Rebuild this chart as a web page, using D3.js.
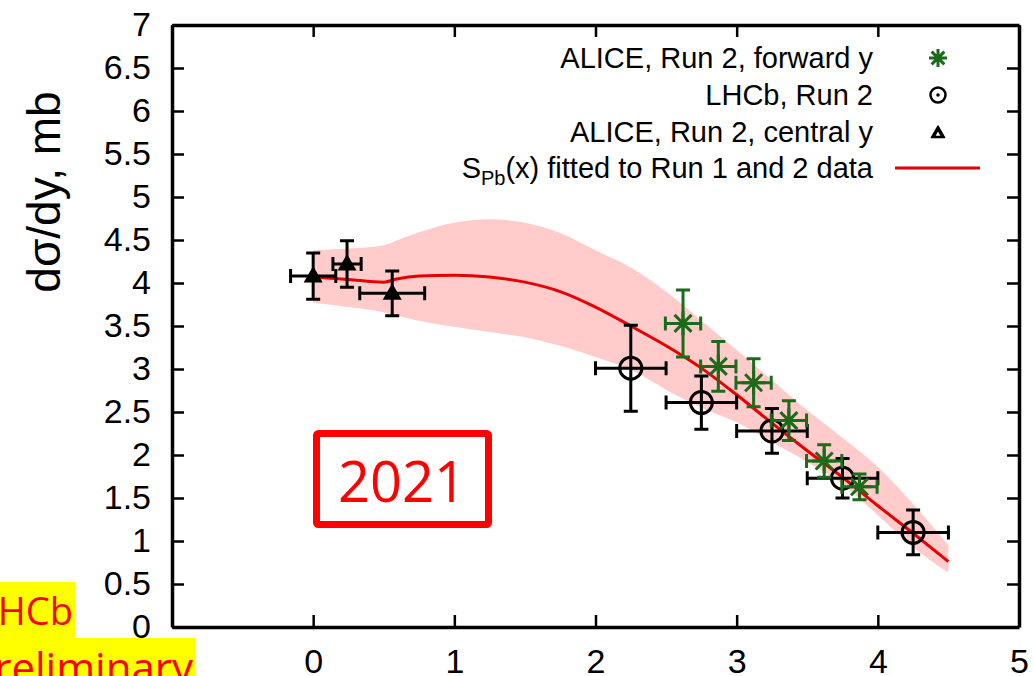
<!DOCTYPE html>
<html>
<head>
<meta charset="utf-8">
<script src="https://cdn.jsdelivr.net/npm/d3@7"></script>
<style>
  body { margin: 0; background: #fff; }
  svg { display: block; font-family: "Liberation Sans", Arial, sans-serif; }
</style>
</head>
<body>
<svg id="chart" width="1033" height="676"></svg>
<script>
// fitted curve S_Pb(x) and its uncertainty band
const fitX = [0, 0.25, 0.5, 0.6, 0.75, 1.0, 1.25, 1.5, 1.75, 2.0, 2.25, 2.5, 2.75, 3.0, 3.25, 3.5, 3.75, 4.0, 4.25, 4.5];
const fitY = [4.07, 4.04, 4.01, 4.05, 4.08, 4.09, 4.07, 4.01, 3.90, 3.72, 3.50, 3.27, 3.01, 2.70, 2.37, 2.05, 1.74, 1.41, 1.09, 0.76];
const bandHigh = [4.38, 4.40, 4.44, 4.50, 4.59, 4.70, 4.74, 4.70, 4.58, 4.38, 4.18, 3.90, 3.56, 3.22, 2.87, 2.52, 2.20, 1.86, 1.43, 0.95];
const bandLow = [3.77, 3.72, 3.66, 3.62, 3.56, 3.49, 3.43, 3.37, 3.27, 3.14, 2.99, 2.76, 2.55, 2.38, 2.15, 1.92, 1.66, 1.30, 0.93, 0.63];

// ALICE, Run 2, forward y
const fwdX = [2.62, 2.87, 3.12, 3.37, 3.62, 3.87];
const fwdY = [3.53, 3.03, 2.84, 2.40, 1.93, 1.63];
const fwdXErr = [0.125, 0.125, 0.125, 0.125, 0.125, 0.125];
const fwdYErr = [0.39, 0.29, 0.28, 0.23, 0.19, 0.15];

// LHCb, Run 2
const lhcbX = [2.25, 2.75, 3.25, 3.75, 4.25];
const lhcbY = [3.01, 2.61, 2.28, 1.73, 1.10];
const lhcbXErr = [0.25, 0.25, 0.25, 0.25, 0.25];
const lhcbYErr = [0.50, 0.31, 0.26, 0.23, 0.26];

// ALICE, Run 2, central y
const cenX = [0, 0.24, 0.56];
const cenY = [4.08, 4.22, 3.88];
const cenXErr = [0.16, 0.1, 0.23];
const cenYErr = [0.27, 0.27, 0.26];

const xTicks = [-1, 0, 1, 2, 3, 4, 5];
const yTicks = [0, 0.5, 1, 1.5, 2, 2.5, 3, 3.5, 4, 4.5, 5, 5.5, 6, 6.5, 7];

const legendLabels = ["ALICE, Run 2, forward y", "LHCb, Run 2", "ALICE, Run 2, central y"];

const svg = d3.select("#chart");
const x = d3.scaleLinear().domain([-1, 5]).range([172, 1019]);
const y = d3.scaleLinear().domain([0, 7]).range([627, 25]);

const green = "#1b6b1b";
const red = "#e60000";

// band
const band = fitX.map((v, i) => ({ x: v, lo: bandLow[i], hi: bandHigh[i] }));
svg.append("path")
  .datum(band)
  .attr("fill", "#ffcbcb")
  .attr("d", d3.area().x(d => x(d.x)).y0(d => y(d.lo)).y1(d => y(d.hi)).curve(d3.curveMonotoneX));

// fit line
svg.append("path")
  .datum(fitX.map((v, i) => [v, fitY[i]]))
  .attr("fill", "none")
  .attr("stroke", red)
  .attr("stroke-width", 3)
  .attr("d", d3.line().x(d => x(d[0])).y(d => y(d[1])).curve(d3.curveMonotoneX));

// axes, gnuplot style: inward ticks on all four sides
function styleAxis(g) {
  g.select(".domain").attr("stroke-width", 3.5).attr("stroke", "#000");
  g.selectAll(".tick line").attr("stroke-width", 2.5).attr("stroke", "#000");
  g.selectAll(".tick text").attr("font-size", 34).attr("font-family", "Liberation Sans, Arial, sans-serif").attr("fill", "#000");
}
// the -1 label sits under the yellow overlay in the original, so it is left blank
svg.append("g").attr("transform", "translate(0,627)")
  .call(d3.axisBottom(x).tickValues(xTicks).tickSize(-12).tickSizeOuter(0).tickPadding(22)
    .tickFormat(d => d < 0 ? "" : String(d)))
  .call(styleAxis);
svg.append("g").attr("transform", "translate(0,25)")
  .call(d3.axisTop(x).tickValues(xTicks).tickSize(-12).tickSizeOuter(0).tickFormat(""))
  .call(styleAxis);
svg.append("g").attr("transform", "translate(172,0)")
  .call(d3.axisLeft(y).tickValues(yTicks).tickSize(-12).tickSizeOuter(0).tickPadding(21).tickFormat(d => String(d)))
  .call(styleAxis);
svg.append("g").attr("transform", "translate(1019,0)")
  .call(d3.axisRight(y).tickValues(yTicks).tickSize(-12).tickSizeOuter(0).tickFormat(""))
  .call(styleAxis);

// y title
svg.append("text")
  .attr("transform", "translate(60,192) rotate(-90)")
  .attr("text-anchor", "middle")
  .attr("font-size", 46)
  .text("dσ/dy, mb");

// error bars
function errorBars(xs, ys, xe, ye, color) {
  const g = svg.append("g").attr("stroke", color).attr("stroke-width", 3).attr("fill", "none");
  const cap = 7;
  xs.forEach((v, i) => {
    const cx = x(v), cy = y(ys[i]);
    const x0 = x(v - xe[i]), x1 = x(v + xe[i]);
    const y0 = y(ys[i] - ye[i]), y1 = y(ys[i] + ye[i]);
    g.append("path").attr("d",
      `M${x0},${cy}H${x1}M${x0},${cy - cap}V${cy + cap}M${x1},${cy - cap}V${cy + cap}` +
      `M${cx},${y0}V${y1}M${cx - cap},${y0}H${cx + cap}M${cx - cap},${y1}H${cx + cap}`);
  });
}

function starPath(cx, cy, r) {
  const d = r * Math.SQRT1_2;
  return `M${cx - r},${cy}H${cx + r}M${cx},${cy - r}V${cy + r}` +
    `M${cx - d},${cy - d}L${cx + d},${cy + d}M${cx - d},${cy + d}L${cx + d},${cy - d}`;
}
function triPath(cx, cy, s) {
  return `M${cx},${cy - s}L${cx + s * 0.95},${cy + s * 0.65}L${cx - s * 0.95},${cy + s * 0.65}Z`;
}

// central y (triangles)
errorBars(cenX, cenY, cenXErr, cenYErr, "#000");
svg.append("g").selectAll("path").data(cenX).join("path")
  .attr("d", (d, i) => triPath(x(d), y(cenY[i]), 10))
  .attr("fill", "#000");

// LHCb (open circles)
errorBars(lhcbX, lhcbY, lhcbXErr, lhcbYErr, "#000");
svg.append("g").selectAll("circle").data(lhcbX).join("circle")
  .attr("cx", d => x(d)).attr("cy", (d, i) => y(lhcbY[i])).attr("r", 11)
  .attr("fill", "none").attr("stroke", "#000").attr("stroke-width", 3);

// ALICE forward (stars)
errorBars(fwdX, fwdY, fwdXErr, fwdYErr, green);
svg.append("g").selectAll("path").data(fwdX).join("path")
  .attr("d", (d, i) => starPath(x(d), y(fwdY[i]), 12))
  .attr("stroke", green).attr("stroke-width", 3).attr("fill", "none");

// legend
const legRowY = [58, 95, 132, 168];
const legText = svg.append("g").attr("font-size", 29).attr("text-anchor", "end").attr("fill", "#000");
legendLabels.forEach((t, i) => {
  legText.append("text").attr("x", 873).attr("y", legRowY[i]).attr("dy", "0.36em").text(t);
});
const fitLabel = legText.append("text").attr("x", 873).attr("y", legRowY[3]).attr("dy", "0.36em");
fitLabel.append("tspan").text("S");
fitLabel.append("tspan").attr("font-size", 20).attr("dy", 7).text("Pb");
fitLabel.append("tspan").attr("dy", -7).text("(x) fitted to Run 1 and 2 data");

svg.append("path").attr("d", starPath(938, legRowY[0], 9))
  .attr("stroke", green).attr("stroke-width", 3).attr("fill", "none");
svg.append("circle").attr("cx", 938).attr("cy", legRowY[1]).attr("r", 7.5)
  .attr("fill", "none").attr("stroke", "#000").attr("stroke-width", 2.5);
svg.append("circle").attr("cx", 938).attr("cy", legRowY[1]).attr("r", 1.8).attr("fill", "#000");
svg.append("path").attr("d", triPath(938, legRowY[2] + 1, 7)).attr("fill", "#000")
  .attr("stroke", "#000").attr("stroke-width", 1.5).attr("stroke-linejoin", "round");
svg.append("path").attr("d", triPath(938, legRowY[2] + 2, 2.5)).attr("fill", "#fff");
svg.append("line").attr("x1", 895).attr("x2", 980).attr("y1", legRowY[3]).attr("y2", legRowY[3])
  .attr("stroke", red).attr("stroke-width", 3);

// "2021" stamp
svg.append("rect").attr("x", 316.5).attr("y", 433.5).attr("width", 172).attr("height", 91).attr("rx", 2)
  .attr("fill", "#fff").attr("stroke", "#ff0000").attr("stroke-width", 7);
svg.append("text").attr("x", 402).attr("y", 502).attr("text-anchor", "middle")
  .attr("font-family", "Open Sans, Liberation Sans, sans-serif").attr("font-size", 56).attr("fill", "#ff0000")
  .text("2021");

// "LHCb preliminary" overlay (cut at the left edge)
svg.append("rect").attr("x", 0).attr("y", 582).attr("width", 75).attr("height", 58).attr("fill", "#ffff00");
svg.append("rect").attr("x", 0).attr("y", 638).attr("width", 195).attr("height", 40).attr("fill", "#ffff00");
const over = svg.append("g").attr("font-family", "Open Sans, Liberation Sans, sans-serif")
  .attr("fill", "#ff0000").attr("text-anchor", "end");
over.append("text").attr("x", 73).attr("y", 625).attr("font-size", 38).text("LHCb");
over.append("text").attr("x", 193).attr("y", 683).attr("font-size", 42).text("preliminary");
</script>
</body>
</html>
